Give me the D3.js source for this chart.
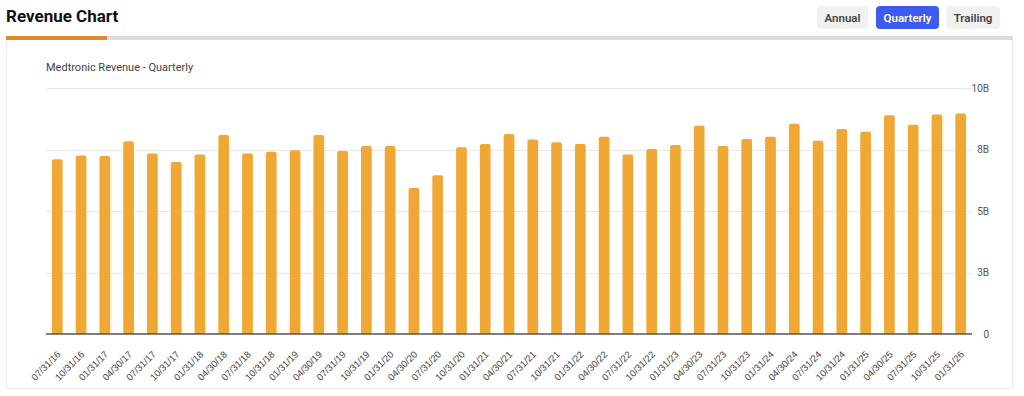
<!DOCTYPE html>
<meta charset="utf-8">
<script src="https://d3js.org/d3.v7.min.js"></script>
<style>
  body { margin: 0; background: #fff; font-family: Roboto, Arial, sans-serif; }
</style>
<div id="chart"></div>
<script>
// quarter end dates
var quarters = ["07/31/16","10/31/16","01/31/17","04/30/17","07/31/17","10/31/17","01/31/18","04/30/18",
  "07/31/18","10/31/18","01/31/19","04/30/19","07/31/19","10/31/19","01/31/20","04/30/20",
  "07/31/20","10/31/20","01/31/21","04/30/21","07/31/21","10/31/21","01/31/22","04/30/22",
  "07/31/22","10/31/22","01/31/23","04/30/23","07/31/23","10/31/23","01/31/24","04/30/24",
  "07/31/24","10/31/24","01/31/25","04/30/25","07/31/25","10/31/25","01/31/26"];

// revenue in billions USD
var revenue = [7.11,7.27,7.24,7.85,7.35,7.00,7.31,8.10,
  7.35,7.42,7.48,8.10,7.45,7.65,7.65,5.94,
  6.46,7.60,7.73,8.14,7.92,7.80,7.73,8.03,
  7.31,7.53,7.69,8.48,7.65,7.94,8.03,8.56,
  7.87,8.34,8.23,8.90,8.52,8.93,8.97];

var yTicks = [0, 2.5, 5, 7.5, 10];
var buttons = ["Annual", "Quarterly", "Trailing"];

var W = 1024, H = 396;
var svg = d3.select("#chart").append("svg")
  .attr("width", W).attr("height", H);

// header
svg.append("text")
  .attr("x", 6).attr("y", 22)
  .style("font-size", "17px").style("font-weight", 700)
  .attr("fill", "#111")
  .text("Revenue Chart");

var btnX = [817, 876, 946], btnW = [51, 63, 54];
buttons.forEach(function(b, i) {
  var active = b === "Quarterly";
  svg.append("rect")
    .attr("x", btnX[i]).attr("y", 6).attr("width", btnW[i]).attr("height", 23)
    .attr("rx", 4)
    .attr("fill", active ? "#3d5af1" : "#f1f1f1");
  svg.append("text")
    .attr("x", btnX[i] + btnW[i] / 2).attr("y", 21.5)
    .attr("text-anchor", "middle")
    .style("font-size", "11.5px").style("font-weight", 600)
    .attr("fill", active ? "#fff" : "#444")
    .text(b);
});

// card
svg.append("rect")
  .attr("x", 6.5).attr("y", 38.5).attr("width", 1006).attr("height", 350)
  .attr("fill", "#fff").attr("stroke", "#ececec");
svg.append("rect").attr("x", 6).attr("y", 36).attr("width", 1007).attr("height", 4).attr("fill", "#dcdcdc");
svg.append("rect").attr("x", 6).attr("y", 36).attr("width", 101).attr("height", 4).attr("fill", "#e08a2c");

svg.append("text")
  .attr("x", 46).attr("y", 71)
  .style("font-size", "11px")
  .attr("fill", "#444")
  .text("Medtronic Revenue - Quarterly");

// scales
var x = d3.scaleBand()
  .domain(quarters)
  .range([46, 972])
  .paddingInner(0.55)
  .paddingOuter(0.25);

var y = d3.scaleLinear()
  .domain([0, 10])
  .range([334, 88.3]);

// grid
svg.append("g").selectAll("line")
  .data(yTicks.filter(function(d) { return d > 0; }))
  .enter().append("line")
    .attr("x1", 46).attr("x2", 972)
    .attr("y1", function(d) { return Math.round(y(d)) + 0.5; })
    .attr("y2", function(d) { return Math.round(y(d)) + 0.5; })
    .attr("stroke", "#e8e8e8");

// y axis on the right
var yAxis = svg.append("g")
  .attr("transform", "translate(989,0)")
  .call(d3.axisRight(y).tickValues(yTicks).tickSize(0)
    .tickFormat(function(d) { return d === 0 ? "0" : Math.round(d) + "B"; }));
yAxis.select(".domain").remove();
yAxis.selectAll("text")
  .attr("x", 0)
  .attr("text-anchor", "end")
  .style("font-size", "10px")
  .style("font-family", "Roboto, Arial, sans-serif")
  .attr("fill", "#555");

// bars
svg.append("g").selectAll("path")
  .data(revenue)
  .enter().append("path")
    .attr("d", function(d, i) {
      var x0 = x(quarters[i]), w = x.bandwidth(), y0 = y(d), r = 2;
      return "M" + x0 + "," + y(0) + "V" + (y0 + r) +
        "Q" + x0 + "," + y0 + " " + (x0 + r) + "," + y0 +
        "H" + (x0 + w - r) +
        "Q" + (x0 + w) + "," + y0 + " " + (x0 + w) + "," + (y0 + r) +
        "V" + y(0) + "Z";
    })
    .attr("fill", "#f0a733");

// baseline
svg.append("line")
  .attr("x1", 46).attr("x2", 972)
  .attr("y1", 334).attr("y2", 334)
  .attr("stroke", "#555").attr("stroke-width", 1.3);

// x axis labels
var xAxis = svg.append("g")
  .attr("transform", "translate(0,334)")
  .call(d3.axisBottom(x).tickSize(0));
xAxis.select(".domain").remove();
xAxis.selectAll("text")
  .attr("text-anchor", "end")
  .attr("dx", "0")
  .attr("dy", "0")
  .attr("y", 0)
  .attr("transform", "translate(4,21) rotate(-45)")
  .style("font-size", "9.5px")
  .style("font-family", "'Liberation Sans', Arial, sans-serif")
  .attr("fill", "#444");
</script>
